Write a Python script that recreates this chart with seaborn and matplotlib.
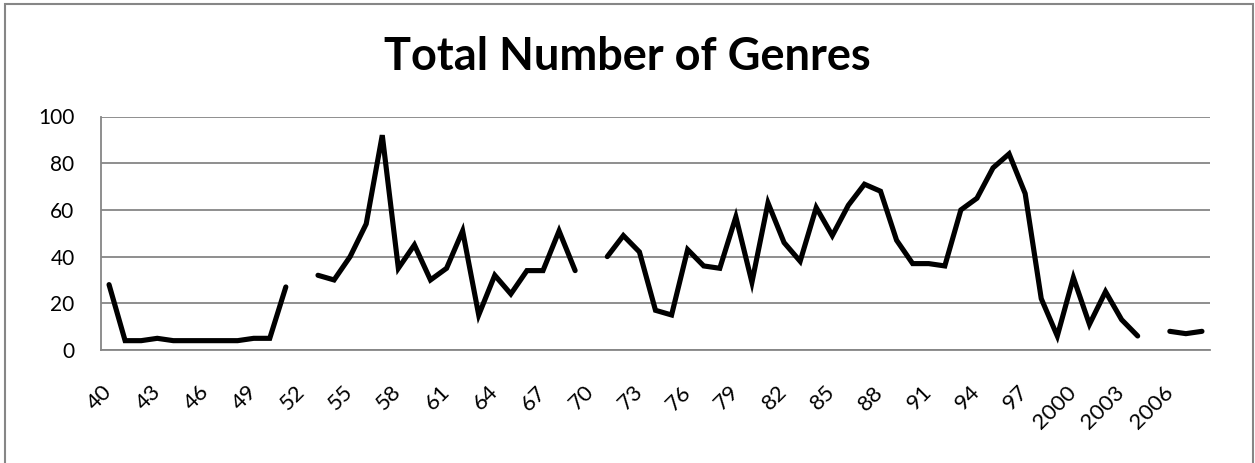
import matplotlib
matplotlib.use("Agg")
import matplotlib.pyplot as plt
import numpy as np
import pandas as pd
import seaborn as sns
from matplotlib.patches import Rectangle

# categories (years) as shown on the category axis
categories = ["40", "41", "42", "43", "44", "45", "46", "47", "48", "49",
              "50", "51", "52", "53", "54", "55", "56", "57", "58", "59",
              "60", "61", "62", "63", "64", "65", "66", "67", "68", "69",
              "70", "71", "72", "73", "74", "75", "76", "77", "78", "79",
              "80", "81", "82", "83", "84", "85", "86", "87", "88", "89",
              "90", "91", "92", "93", "94", "95", "96", "97", "98", "99",
              "2000", "2001", "2002", "2003", "2004", "2005", "2006", "2007", "2008"]
# number of genres per year, None = no data (gap in the line)
genres = [28, 4, 4, 5, 4, 4, 4, 4, 4, 5,
          5, 27, None, 32, 30, 40, 54, 92, 35, 45,
          30, 35, 51, 15, 32, 24, 34, 34, 51, 34,
          None, 40, 49, 42, 17, 15, 43, 36, 35, 57,
          29, 63, 46, 38, 61, 49, 62, 71, 68, 47,
          37, 37, 36, 60, 65, 78, 84, 67, 22, 6,
          31, 11, 25, 13, 6, None, 8, 7, 8]
tick_labels = ["40", "43", "46", "49", "52", "55", "58", "61", "64", "67",
               "70", "73", "76", "79", "82", "85", "88", "91", "94", "97",
               "2000", "2003", "2006"]
title = "Total Number of Genres"

sns.set_style("white")
plt.rcParams["font.family"] = ["Lato", "DejaVu Sans"]
plt.rcParams["text.color"] = "black"
plt.rcParams["xtick.color"] = "black"
plt.rcParams["ytick.color"] = "black"

W, H = 1255, 463
fig = plt.figure(figsize=(W / 100, H / 100), dpi=100)
ax = fig.add_axes([101 / W, 113 / H, 1109 / W, 233.5 / H])

df = pd.DataFrame({"Year": categories, "Genres": genres})
df["pos"] = np.arange(len(df))
df["segment"] = df["Genres"].isna().cumsum()
df = df.dropna()

sns.lineplot(data=df, x="pos", y="Genres", units="segment", estimator=None,
             color="black", linewidth=3.7, ax=ax,
             solid_joinstyle="miter", solid_capstyle="round")

ax.set_xlim(-0.5, len(categories) - 0.5)
ax.set_ylim(0, 100)
ax.set_yticks(range(0, 101, 20))
ax.set_xticks([categories.index(t) for t in tick_labels])
ax.set_xticklabels(tick_labels, rotation=45, ha="right", va="center",
                   rotation_mode="anchor")
ax.set_xlabel("")
ax.set_ylabel("")
ax.yaxis.grid(True, color="#868686", linewidth=1.3)
ax.set_axisbelow(True)
for s in ["top", "right"]:
    ax.spines[s].set_visible(False)
for s in ["left", "bottom"]:
    ax.spines[s].set_color("#868686")
    ax.spines[s].set_linewidth(1.3)
ax.tick_params(axis="y", length=0, pad=19, labelsize=15)
ax.tick_params(axis="x", length=0, pad=28, labelsize=16)

fig.text(0.5, 1 - 57 / H, title, ha="center", va="center",
         fontsize=32.5, fontweight="bold")

fig.patches.append(Rectangle((5 / W, -0.1), (1253 - 5) / W, 1.1 - 4.5 / H,
                             transform=fig.transFigure, fill=False,
                             edgecolor="#868686", linewidth=1.5))

fig.savefig("out.png", dpi=100)
